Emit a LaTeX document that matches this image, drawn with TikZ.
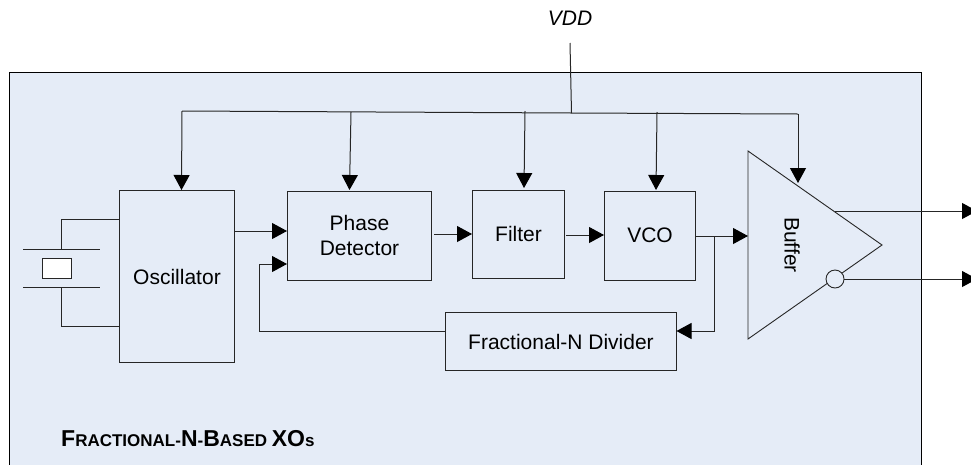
\documentclass[tikz,border=0pt]{standalone}
\usepackage{fontspec}
\setmainfont{Liberation Sans}
\usetikzlibrary{arrows.meta}
\definecolor{panel}{HTML}{E5ECF7}
\definecolor{wire}{HTML}{262626}
\tikzset{
  block/.style={draw=wire,line width=1pt,fill=panel,rectangle,minimum width=#1,inner sep=0pt,align=center,font=\fontsize{21}{25}\selectfont},
  conn/.style={draw=wire,line width=1pt},
  arr/.style={conn,-{Triangle[length=15pt,width=16pt,fill=black,color=black]}},
  lbl/.style={inner sep=0pt,font=\fontsize{21}{25}\selectfont}
}
\begin{document}
\begin{tikzpicture}[x=1pt,y=-1pt]
\useasboundingbox (0,0) rectangle (971,464);
\begin{scope}
\clip (0,0) rectangle (971,464);
\draw[draw=black,line width=1pt,fill=panel] (9,72) rectangle (921,480);
\node[block=115pt,minimum height=172pt,anchor=north west] (osc) at (119,190) {Oscillator};
\node[block=144pt,minimum height=89pt,anchor=north west] (pd) at (287,191) {\raisebox{1pt}{Phase}\\\raisebox{1pt}{Detector}};
\node[block=92pt,minimum height=88pt,anchor=north west] (filter) at (472,190) {\raisebox{1pt}{Filter}};
\node[block=91pt,minimum height=89pt,anchor=north west] (vco) at (604,191) {\raisebox{1pt}{VCO}};
\node[block=231pt,minimum height=58pt,anchor=north west] (div) at (445,312) {Fractional-N Divider};
\draw[conn,fill=panel,line width=0.9pt] (748,151) coordinate (ta) -- (882,245) coordinate (tc) -- (748,339) coordinate (tb) -- cycle;
\node[lbl,rotate=-90] (buf) at (792,245) {Buffer};
\node[circle,draw=wire,line width=0.9pt,fill=panel,minimum size=18pt,inner sep=0pt] (bub) at (835,279) {};
% crystal
\node[draw=wire,fill=white,line width=1pt,minimum width=29pt,minimum height=20pt,inner sep=0pt] (xtal) at (56.5,268) {};
\coordinate (pt1) at (23,249); \coordinate (pt2) at (100,249);
\coordinate (pb1) at (23,287); \coordinate (pb2) at (100,287);
\draw[conn] (pt1) -- (pt2);
\draw[conn] (pb1) -- (pb2);
\coordinate (wt) at (61,249); \coordinate (wb) at (61,287);
\coordinate (ot) at (119,219); \coordinate (ob) at (119,326);
\draw[conn] (wt) |- (ot);
\draw[conn] (wb) |- (ob);
% supply
\node[lbl,font=\fontsize{21}{25}\selectfont\itshape] (vdd) at (570,18.5) {VDD};
\coordinate (v0) at (570,43); \coordinate (v1) at (571.5,113);
\draw[conn] (v0) -- (v1);
\coordinate (bl) at (182,111); \coordinate (br) at (798,114);
\draw[conn] (bl) -- (v1) -- (br);
\draw[arr] (bl) -- (181.5,190);
\draw[arr] (351,112) coordinate (d1) -- (349.5,190);
\draw[arr] (525,111) coordinate (d2) -- (524,188);
\draw[arr] (657,112) coordinate (d3) -- (656,190);
\draw[arr] (br) -- (798,183);
% signal path
\draw[arr] (234,231) -- (287,231);
\draw[arr] (434,234) -- (472,234);
\draw[arr] (566,235) -- (604,235);
\draw[arr] (695,236) -- (748,236);
\draw[arr] (714,236) |- (676.5,331);
\draw[arr] (445,331) -| (259,264) -- (287,264);
\draw[arr] (835,211) -- (977,211);
\draw[arr] (844,279) -- (977,279);
\node[inner sep=0pt,anchor=base west,font=\bfseries\fontsize{17}{20}\selectfont] (title) at (61,446.5)
 {{\fontsize{23}{25}\selectfont F}RACTIONAL-{\fontsize{23}{25}\selectfont N}-{\fontsize{23}{25}\selectfont B}ASED {\fontsize{23}{25}\selectfont XO}s};
\end{scope}
\end{tikzpicture}
\end{document}
